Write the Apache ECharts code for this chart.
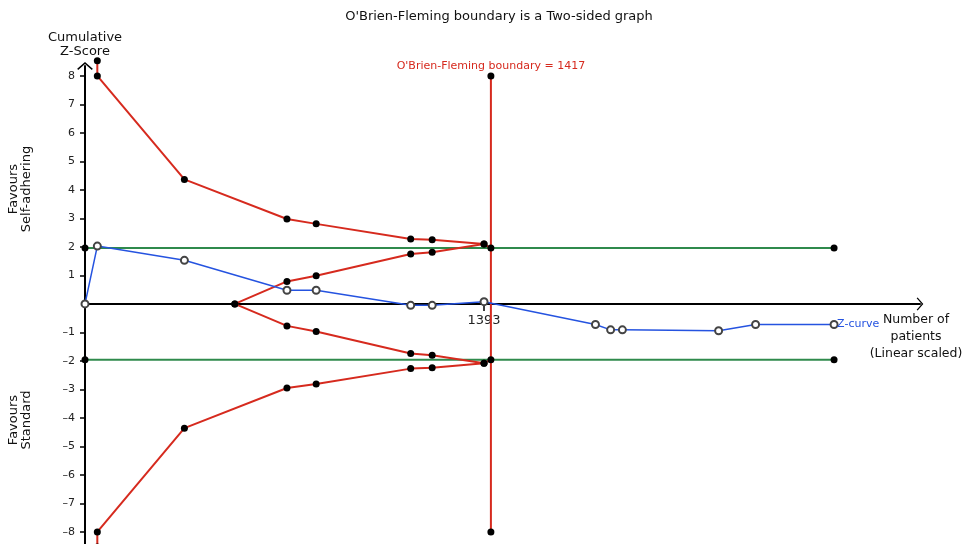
<!DOCTYPE html>
<html>
<head>
<meta charset="utf-8">
<title>O'Brien-Fleming boundary</title>
<script src="https://cdn.jsdelivr.net/npm/echarts@6/dist/echarts.min.js"></script>
<style>
  html, body { margin: 0; padding: 0; background: #ffffff; }
  #chart { width: 964px; height: 544px; }
</style>
</head>
<body>
<div id="chart"></div>
<script>
// Trial sequential analysis: cumulative Z-curve against O'Brien-Fleming boundaries
const BOUNDARY_N = 1417;      // required information size
const Z_CRIT = 1.96;          // conventional significance level
const CURVE_END_N = 2615;     // cumulative patients at the last trial

const yTickValues = [-8, -7, -6, -5, -4, -3, -2, -1, 1, 2, 3, 4, 5, 6, 7, 8];
const xTickValues = [1393];

// Outer (benefit / harm) monitoring boundaries: [patients, Z]
const upperBoundary = [[43, 8.53], [43, 8], [347, 4.37], [705, 2.98], [807, 2.81],
                       [1137, 2.28], [1212, 2.25], [1393, 2.1], [1417, 1.96]];
const lowerBoundary = [[43, -8.53], [43, -8], [347, -4.36], [705, -2.95], [807, -2.81],
                       [1137, -2.27], [1212, -2.24], [1393, -2.08], [1417, -1.96]];

// Inner (futility) boundaries
const upperFutility = [[523, 0], [705, 0.79], [807, 0.99], [1137, 1.75], [1212, 1.81], [1393, 2.1]];
const lowerFutility = [[523, 0], [705, -0.77], [807, -0.97], [1137, -1.74], [1212, -1.8], [1393, -2.08]];

// Cumulative Z-curve
const zCurveN = [0, 43, 347, 705, 807, 1137, 1212, 1393, 1782, 1835, 1876, 2212, 2341, 2615];
const zCurveZ = [0, 2.03, 1.53, 0.48, 0.48, -0.05, -0.05, 0.08, -0.72, -0.91, -0.91, -0.94, -0.72, -0.72];

const RED = '#d62a1e';
const GREEN = '#2f8a4c';
const BLUE = '#2553e0';
const FONT = 'DejaVu Sans';

const chevron = 'path://M0,7 L8,0 L16,7 L15,8.2 L8,2 L1,8.2 Z';

const dotSeries = (name, data, color, z) => ({
  name, type: 'line', data, z,
  clip: false,
  symbol: 'circle', symbolSize: 7,
  itemStyle: { color: '#000' },
  lineStyle: { color, width: 2 },
  animation: false
});

const chart = echarts.init(document.getElementById('chart'));
chart.setOption({
  backgroundColor: '#ffffff',
  animation: false,
  textStyle: { fontFamily: FONT },
  grid: {
    left: 85, right: 44, top: 66, bottom: -5,
    outerBoundsMode: 'none', containLabel: false
  },
  xAxis: {
    type: 'value', min: 0, max: 2915,
    axisLine: {
      onZero: true,
      lineStyle: { color: '#000', width: 2 },
      symbol: ['none', chevron], symbolSize: [13, 9], symbolOffset: [0, 0]
    },
    axisTick: { customValues: xTickValues, length: 7, lineStyle: { color: '#000', width: 1.5 } },
    axisLabel: { show: false },
    splitLine: { show: false }
  },
  yAxis: {
    type: 'value', min: -8.6, max: 8.35,
    axisLine: {
      lineStyle: { color: '#000', width: 2 },
      symbol: ['none', chevron], symbolSize: [16, 8], symbolOffset: [0, 0]
    },
    axisTick: { customValues: yTickValues, length: 5, lineStyle: { color: '#000', width: 1.5 } },
    axisLabel: {
      customValues: yTickValues, fontSize: 11, color: '#222', margin: 10,
      showMinLabel: true, showMaxLabel: true,
      formatter: v => (v < 0 ? '\u2013' + Math.abs(v) : String(v))
    },
    splitLine: { show: false }
  },
  series: [
    dotSeries('Upper significance', [[0, Z_CRIT], [CURVE_END_N, Z_CRIT]], GREEN, 2),
    dotSeries('Lower significance', [[0, -Z_CRIT], [CURVE_END_N, -Z_CRIT]], GREEN, 2),
    dotSeries('Upper boundary', upperBoundary, RED, 3),
    dotSeries('Lower boundary', lowerBoundary, RED, 3),
    dotSeries('Upper futility', upperFutility, RED, 3),
    dotSeries('Lower futility', lowerFutility, RED, 3),
    {
      name: 'Information size', type: 'line', z: 3, clip: false,
      data: [
        { value: [BOUNDARY_N, 8],
          label: { show: true, position: 'top', distance: 1,
                   formatter: "O'Brien-Fleming boundary = " + BOUNDARY_N,
                   color: RED, fontSize: 11, fontFamily: FONT } },
        { value: [BOUNDARY_N, -8] }
      ],
      symbol: 'circle', symbolSize: 7,
      itemStyle: { color: '#000' },
      lineStyle: { color: RED, width: 2 }
    },
    {
      name: 'Z-curve', type: 'line', z: 4, clip: false,
      data: zCurveN.map((n, i) => [n, zCurveZ[i]]),
      symbol: 'emptyCircle', symbolSize: 7,
      itemStyle: { color: '#444', borderWidth: 1 },
      lineStyle: { color: BLUE, width: 1.5 },
      endLabel: { show: true, formatter: 'Z-curve', color: BLUE, fontSize: 11, fontFamily: FONT, distance: 3 }
    }
  ],
  graphic: [
    {
      type: 'text', x: 499, y: 10,
      style: { text: "O'Brien-Fleming boundary is a Two-sided graph", font: '13px ' + FONT, fill: '#111',
               textAlign: 'center', textVerticalAlign: 'top' }
    },
    {
      type: 'text', x: 85, y: 31,
      style: { text: 'Cumulative\nZ-Score', font: '13px ' + FONT, fill: '#111',
               textAlign: 'center', textVerticalAlign: 'top', lineHeight: 14 }
    },
    {
      type: 'text', x: 20.5, y: 189, rotation: Math.PI / 2,
      style: { text: 'Favours\nSelf-adhering', font: '13px ' + FONT, fill: '#111',
               textAlign: 'center', textVerticalAlign: 'middle', lineHeight: 13 }
    },
    {
      type: 'text', x: 20.5, y: 420, rotation: Math.PI / 2,
      style: { text: 'Favours\nStandard', font: '13px ' + FONT, fill: '#111',
               textAlign: 'center', textVerticalAlign: 'middle', lineHeight: 13 }
    },
    {
      type: 'text', x: 916, y: 337,
      style: { text: 'Number of\npatients\n(Linear scaled)', font: '12.5px ' + FONT, fill: '#111',
               textAlign: 'center', textVerticalAlign: 'middle', lineHeight: 17 }
    }
  ]
});

// Tick label for the x-axis, placed under its tick through the axis scale
const tickLabels = xTickValues.map(v => {
  const [px, py] = chart.convertToPixel({ gridIndex: 0 }, [v, 0]);
  return {
    type: 'text', x: px, y: py + 10,
    style: { text: String(v), font: '13px ' + FONT, fill: '#222',
             textAlign: 'center', textVerticalAlign: 'top' }
  };
});
chart.setOption({ graphic: tickLabels.map((g, i) => Object.assign({ id: 'xtick' + i }, g)) });
</script>
</body>
</html>
